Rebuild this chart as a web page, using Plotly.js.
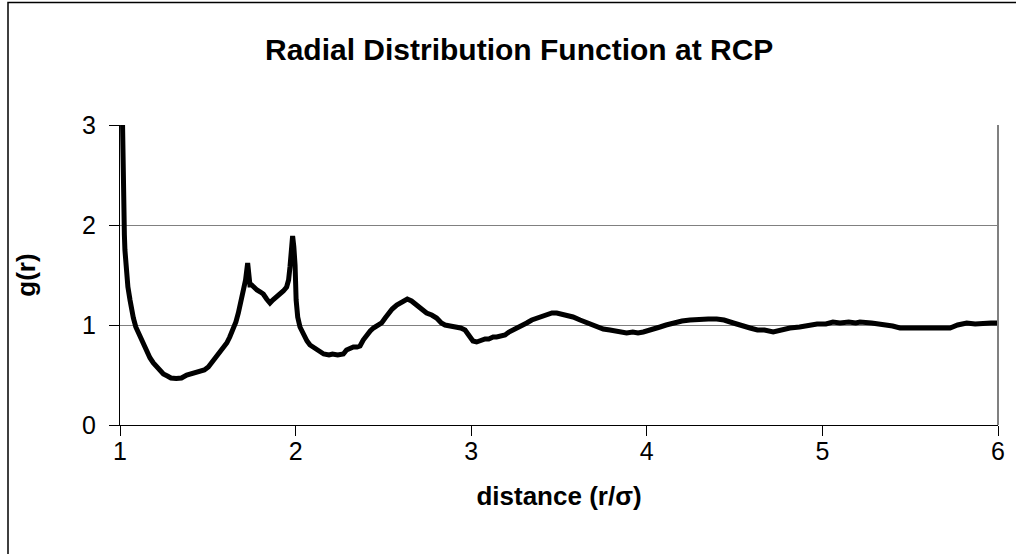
<!DOCTYPE html>
<html>
<head>
<meta charset="utf-8">
<script src="https://cdn.plot.ly/plotly-3.0.1.min.js"></script>
<style>
html,body{margin:0;padding:0;background:#fff;}
#chart{width:1016px;height:554px;}
</style>
</head>
<body>
<div id="chart"></div>
<script>
// distance r/sigma
var distance = [
1.005,1.012,1.016,1.020,1.025,1.028,1.035,1.045,1.057,1.065,1.076,1.09,1.105,1.12,1.133,1.15,1.171,1.19,1.21,1.23,
1.247,1.27,1.29,1.32,1.35,1.38,1.40,1.42,1.44,1.456,1.48,1.503,1.52,1.535,1.55,1.57,1.59,1.608,1.625,1.645,
1.66,1.674,1.69,1.702,1.715,1.727,1.733,1.740,1.75,1.759,1.78,1.80,1.816,1.835,1.854,1.87,1.892,1.91,1.93,1.949,
1.96,1.968,1.975,1.983,1.990,1.997,2.003,2.012,2.025,2.045,2.065,2.082,2.10,2.13,2.16,2.19,2.21,2.24,2.272,2.29,
2.31,2.329,2.35,2.367,2.385,2.405,2.425,2.443,2.47,2.49,2.51,2.528,2.55,2.576,2.60,2.62,2.636,2.66,2.69,2.72,
2.746,2.775,2.803,2.83,2.851,2.88,2.917,2.94,2.965,2.98,2.993,3.01,3.031,3.055,3.079,3.10,3.125,3.145,3.17,3.193,
3.215,3.24,3.27,3.29,3.316,3.345,3.373,3.40,3.43,3.46,3.487,3.515,3.544,3.58,3.62,3.66,3.695,3.72,3.752,3.79,
3.829,3.86,3.885,3.92,3.95,3.98,4.01,4.04,4.075,4.11,4.151,4.20,4.246,4.30,4.35,4.398,4.44,4.493,4.54,4.588,
4.63,4.67,4.72,4.76,4.815,4.87,4.929,4.97,5.02,5.06,5.10,5.15,5.19,5.214,5.28,5.347,5.40,5.442,5.50,5.58,
5.65,5.727,5.77,5.822,5.87,5.92,5.96,6.0
];
// g(r)
var gr = [
4.0,3.0,2.4,2.15,1.90,1.75,1.55,1.38,1.25,1.15,1.07,0.98,0.92,0.86,0.81,0.74,0.67,0.62,0.58,0.54,
0.51,0.49,0.47,0.465,0.47,0.50,0.51,0.52,0.52,0.54,0.55,0.58,0.62,0.66,0.68,0.73,0.78,0.82,0.88,0.95,
1.03,1.12,1.24,1.35,1.45,1.62,1.50,1.40,1.40,1.38,1.35,1.33,1.31,1.26,1.22,1.25,1.28,1.31,1.34,1.38,
1.45,1.58,1.72,1.89,1.78,1.60,1.25,1.08,0.98,0.90,0.84,0.80,0.78,0.74,0.71,0.70,0.71,0.70,0.71,0.75,
0.77,0.78,0.78,0.79,0.85,0.90,0.94,0.97,1.00,1.02,1.07,1.12,1.16,1.20,1.22,1.24,1.26,1.24,1.20,1.15,
1.12,1.10,1.07,1.02,1.00,0.99,0.98,0.97,0.95,0.91,0.87,0.84,0.83,0.85,0.86,0.86,0.88,0.88,0.89,0.90,
0.93,0.95,0.98,1.00,1.02,1.05,1.07,1.09,1.11,1.12,1.12,1.11,1.10,1.08,1.05,1.02,0.99,0.98,0.96,0.95,
0.94,0.93,0.92,0.93,0.92,0.93,0.95,0.96,0.98,1.00,1.02,1.04,1.05,1.06,1.06,1.06,1.05,1.02,0.99,0.97,
0.95,0.95,0.93,0.95,0.97,0.98,1.00,1.01,1.01,1.03,1.02,1.03,1.02,1.03,1.02,1.01,0.99,0.97,0.97,0.97,
0.97,0.97,1.00,1.02,1.01,1.02,1.02,1.02
];
var xTicks = [1,2,3,4,5,6];
var yTicks = [0,1,2,3];

var L = 120, R = 998, T = 125, B = 425;
var W = 1016, H = 554;
function px2paperX(p){ return (p - L) / (R - L); }
function px2paperY(p){ return (B - p) / (B - T); }

var trace = {
  x: distance, y: gr, type: 'scatter', mode: 'lines',
  line: {color: '#000000', width: 5, shape: 'linear'},
  hoverinfo: 'x+y', showlegend: false
};

var layout = {
  width: W, height: H,
  margin: {l: L, r: W - R, t: T, b: H - B, pad: 0},
  paper_bgcolor: '#ffffff', plot_bgcolor: '#ffffff',
  font: {family: 'Liberation Sans, Arial, sans-serif', color: '#000000'},
  title: {
    text: '<b>Radial Distribution Function at RCP</b>',
    font: {size: 30, family: 'Liberation Sans, Arial, sans-serif', color: '#000'},
    x: 0.511, xanchor: 'center', y: 1 - 49/H, yanchor: 'middle'
  },
  xaxis: {
    range: [1, 6], tickvals: xTicks, ticktext: xTicks.map(String),
    showgrid: false, zeroline: false,
    showline: true, linecolor: '#000', linewidth: 1,
    ticks: 'outside', ticklen: 10, tickcolor: '#000', tickwidth: 1,
    tickfont: {size: 25}, ticklabelstandoff: -6,
    title: {text: '<b>distance (r/σ)</b>', font: {size: 26}, standoff: 22}
  },
  yaxis: {
    range: [0, 3], tickvals: yTicks, ticktext: yTicks.map(String),
    showgrid: true, gridcolor: '#808080', gridwidth: 1,
    zeroline: false,
    showline: true, linecolor: '#000', linewidth: 1,
    ticks: 'outside', ticklen: 10, tickcolor: '#000', tickwidth: 1,
    tickfont: {size: 25}, ticklabelstandoff: 8,
    title: {text: '<b>g(r)</b>', font: {size: 26}, standoff: 38}
  },
  shapes: [
    {type: 'line', xref: 'paper', yref: 'paper', x0: 1, x1: 1, y0: 0, y1: 1,
     line: {color: '#808080', width: 2}},
    {type: 'rect', xref: 'paper', yref: 'paper',
     x0: px2paperX(8), x1: px2paperX(1030), y0: px2paperY(570), y1: px2paperY(2.5),
     line: {color: '#000', width: 1.5}, fillcolor: 'rgba(0,0,0,0)', layer: 'below'}
  ]
};

Plotly.newPlot('chart', [trace], layout, {staticPlot: true, displayModeBar: false});
</script>
</body>
</html>
